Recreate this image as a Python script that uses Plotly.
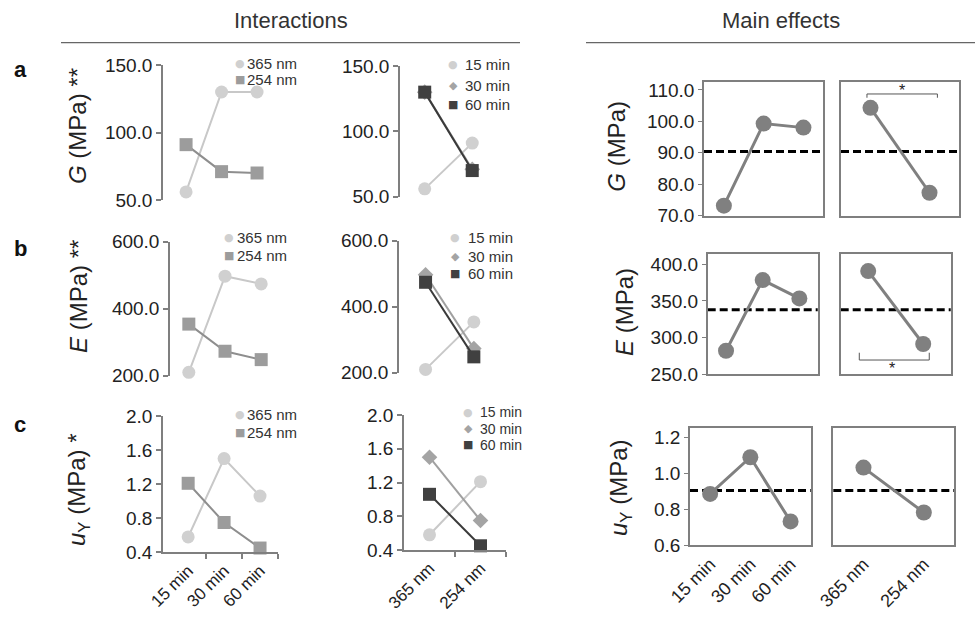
import plotly.graph_objects as go

W, H = 975, 617

# ---------------- data ----------------
times = ["15 min", "30 min", "60 min"]
wavelengths = ["365 nm", "254 nm"]

# interaction values (per wavelength, across exposure times)
G_365 = [56, 130, 130]
G_254 = [91, 71, 70]
E_365 = [210, 497, 474]
E_254 = [354, 273, 248]
uY_365 = [0.58, 1.50, 1.06]
uY_254 = [1.21, 0.75, 0.45]

# main effects
G_by_time = [73.2, 99.3, 98.0]
G_by_wl = [104.3, 77.3]
G_grand = 90.4
E_by_time = [281.8, 378.4, 353.4]
E_by_wl = [390.7, 291.0]
E_grand = 338.0
uY_by_time = [0.886, 1.091, 0.732]
uY_by_wl = [1.033, 0.782]
uY_grand = 0.905

G_ticks = [50, 100, 150]
E_ticks = [200, 400, 600]
uY_ticks = [0.4, 0.8, 1.2, 1.6, 2.0]
G_main_ticks = [70, 80, 90, 100, 110]
E_main_ticks = [250, 300, 350, 400]
uY_main_ticks = [0.6, 0.8, 1.0, 1.2]

# ---------------- styles ----------------
FONT = "Liberation Sans, Arial, Helvetica, sans-serif"
TXT = "#222222"
AX = "#7f7f7f"
C_LIGHT, L_LIGHT = "#d0d0d0", "#c8c8c8"
C_MID, L_MID = "#9c9c9c", "#8e8e8e"
C_DIAM, L_DIAM = "#a4a4a4", "#a0a0a0"
C_DARK, L_DARK = "#404040", "#3a3a3a"
C_MAIN = "#808080"

wl_styles = [dict(symbol="circle", size=13, color=C_LIGHT, line=L_LIGHT, glyph="\u25cf"),
             dict(symbol="square", size=13, color=C_MID, line=L_MID, glyph="\u25a0")]
time_styles = [dict(symbol="circle", size=13, color=C_LIGHT, line=L_LIGHT, glyph="\u25cf"),
               dict(symbol="diamond", size=12, color=C_DIAM, line=L_DIAM, glyph="\u25c6"),
               dict(symbol="square", size=13, color=C_DARK, line=L_DARK, glyph="\u25a0")]


def px(x):
    return x / W


def py(y):
    return 1 - y / H


rows = [
    dict(letter="a", letter_y=70, v365=G_365, v254=G_254, ticks=G_ticks, yr=[50, 150],
         c1=(163, 274.8, 65, 200, [-0.65, 2.5]), c2=(400, 496, 66, 196.7, [-0.52, 1.5]),
         c3=(704, 823.3, 81.7, 215.7), c4=(841, 959, 81.7, 215.7), myr=[70, 112.6],
         mtime=G_by_time, mwl=G_by_wl, grand=G_grand, mticks=G_main_ticks,
         ltitle="<i>G</i> (MPa) **", rtitle="<i>G</i> (MPa)", lt_y=126, rt_xy=(617, 146.7),
         leg1=(240, 245, [63, 79], 15), leg2=(453, 463, [65, 85, 104], 15)),
    dict(letter="b", letter_y=248, v365=E_365, v254=E_254, ticks=E_ticks, yr=[200, 600],
         c1=(170, 279.3, 241.7, 375.7, [-0.52, 2.5]), c2=(399, 498, 240.7, 372.7, [-0.55, 1.5]),
         c3=(707.7, 817.7, 254.3, 374), c4=(840.7, 950.7, 254.3, 374), myr=[250, 413.7],
         mtime=E_by_time, mwl=E_by_wl, grand=E_grand, mticks=E_main_ticks,
         ltitle="<i>E</i> (MPa) **", rtitle="<i>E</i> (MPa)", lt_y=297, rt_xy=(625, 312),
         leg1=(229, 235, [238, 255], 15), leg2=(455, 466, [238, 256, 273], 15)),
    dict(letter="c", letter_y=424, v365=uY_365, v254=uY_254, ticks=uY_ticks, yr=[0.4, 2.0],
         c1=(163, 278, 416, 552.3, [-0.7, 2.5]), c2=(404, 506, 415, 550, [-0.5, 1.5]),
         c3=(690, 810.7, 428.3, 545), c4=(833.3, 954, 428.3, 545), myr=[0.6, 1.253],
         mtime=uY_by_time, mwl=uY_by_wl, grand=uY_grand, mticks=uY_main_ticks,
         ltitle="<i>u</i><sub>Y</sub> (MPa) *", rtitle="<i>u</i><sub>Y</sub> (MPa)", lt_y=490,
         rt_xy=(620, 488),
         leg1=(240, 245, [414, 433], 15), leg2=(468, 478, [412, 428.5, 445], 14)),
]

fig = go.Figure()
layout = {}
annotations = []
shapes = []
n = 0

for ri, r in enumerate(rows):
    bottom = ri == len(rows) - 1

    # ---------- interaction panel 1: x = time, series = wavelength ----------
    n += 1
    x0, x1, yt, yb, xr = r["c1"]
    t_idx = list(range(len(times)))
    for wi, vals in enumerate([r["v365"], r["v254"]]):
        s = wl_styles[wi]
        fig.add_trace(go.Scatter(x=t_idx, y=vals, mode="lines+markers", name=wavelengths[wi],
                                 xaxis=f"x{n}", yaxis=f"y{n}", cliponaxis=False,
                                 line=dict(color=s["line"], width=2),
                                 marker=dict(symbol=s["symbol"], size=s["size"], color=s["color"]),
                                 showlegend=False, hoverinfo="skip"))
    xa = dict(domain=[px(x0), px(x1)], range=xr, anchor=f"y{n}", showgrid=False, zeroline=False,
              automargin=False,
              tickmode="array", tickvals=t_idx, ticktext=times, ticks="",
              showticklabels=bottom, showline=bottom, linecolor=AX, linewidth=1.5,
              tickangle=-45, tickfont=dict(size=17, color=TXT))
    if bottom:
        xa["minor"] = dict(tickmode="array", tickvals=[i + 0.5 for i in t_idx], ticks="outside",
                           ticklen=5, tickcolor=AX, tickwidth=1.5, showgrid=False)
    layout[f"xaxis{n}"] = xa
    layout[f"yaxis{n}"] = dict(domain=[py(yb), py(yt)], range=r["yr"], anchor=f"x{n}",
                               automargin=False,
                               tickmode="array", tickvals=r["ticks"], tickformat=".1f",
                               ticks="outside", ticklen=5, tickcolor=AX, tickwidth=1.5,
                               showline=True, linecolor=AX, linewidth=1.5, showgrid=False,
                               zeroline=False, tickfont=dict(size=19, color=TXT))

    # ---------- interaction panel 2: x = wavelength, series = time ----------
    n += 1
    x0, x1, yt, yb, xr = r["c2"]
    w_idx = list(range(len(wavelengths)))
    for ti in range(len(times)):
        s = time_styles[ti]
        vals = [r["v365"][ti], r["v254"][ti]]
        fig.add_trace(go.Scatter(x=w_idx, y=vals, mode="lines+markers", name=times[ti],
                                 xaxis=f"x{n}", yaxis=f"y{n}", cliponaxis=False,
                                 line=dict(color=s["line"], width=2),
                                 marker=dict(symbol=s["symbol"], size=s["size"], color=s["color"]),
                                 showlegend=False, hoverinfo="skip"))
    xa = dict(domain=[px(x0), px(x1)], range=xr, anchor=f"y{n}", showgrid=False, zeroline=False,
              automargin=False,
              tickmode="array", tickvals=w_idx, ticktext=wavelengths, ticks="",
              showticklabels=bottom, showline=bottom, linecolor=AX, linewidth=1.5,
              tickangle=-45, tickfont=dict(size=17, color=TXT))
    if bottom:
        xa["minor"] = dict(tickmode="array", tickvals=[i + 0.5 for i in w_idx], ticks="outside",
                           ticklen=5, tickcolor=AX, tickwidth=1.5, showgrid=False)
    layout[f"xaxis{n}"] = xa
    layout[f"yaxis{n}"] = dict(domain=[py(yb), py(yt)], range=r["yr"], anchor=f"x{n}",
                               automargin=False,
                               tickmode="array", tickvals=r["ticks"], tickformat=".1f",
                               ticks="outside", ticklen=5, tickcolor=AX, tickwidth=1.5,
                               showline=True, linecolor=AX, linewidth=1.5, showgrid=False,
                               zeroline=False, tickfont=dict(size=19, color=TXT))

    # ---------- main effects: time / wavelength ----------
    for ci, (cats, vals, geo) in enumerate([(times, r["mtime"], r["c3"]), (wavelengths, r["mwl"], r["c4"])]):
        n += 1
        x0, x1, yt, yb = geo
        fig.add_trace(go.Scatter(x=cats, y=vals, mode="lines+markers", xaxis=f"x{n}", yaxis=f"y{n}",
                                 cliponaxis=False, line=dict(color=C_MAIN, width=3),
                                 marker=dict(symbol="circle", size=16, color=C_MAIN),
                                 showlegend=False, hoverinfo="skip"))
        layout[f"xaxis{n}"] = dict(domain=[px(x0), px(x1)], type="category", range=[-0.5, len(cats) - 0.5],
                                   anchor=f"y{n}", showgrid=False, zeroline=False, ticks="",
                                   automargin=False,
                                   showline=True, mirror=True, linecolor=AX, linewidth=1.5,
                                   showticklabels=bottom, tickangle=-45,
                                   tickfont=dict(size=18, color=TXT))
        layout[f"yaxis{n}"] = dict(domain=[py(yb), py(yt)], range=r["myr"], anchor=f"x{n}",
                                   automargin=False,
                                   tickmode="array", tickvals=r["mticks"], tickformat=".1f",
                                   ticks="outside" if ci == 0 else "", ticklen=4, tickcolor=AX,
                                   showticklabels=(ci == 0), showline=True, mirror=True,
                                   linecolor=AX, linewidth=1.5, showgrid=False, zeroline=False,
                                   tickfont=dict(size=19, color=TXT))
        shapes.append(dict(type="line", xref=f"x{n} domain", yref=f"y{n}", x0=0, x1=1,
                           y0=r["grand"], y1=r["grand"], layer="below",
                           line=dict(color="black", width=3, dash="8px,4px")))
        if ci == 1 and ri == 0:
            shapes.append(dict(type="path", xref=f"x{n} domain", yref=f"y{n}",
                               path="M 0.22,107.5 L 0.22,108.7 L 0.817,108.7 L 0.817,107.5",
                               line=dict(color="#555555", width=1)))
            annotations.append(dict(xref=f"x{n} domain", yref=f"y{n}", x=0.52, y=108.7, text="*",
                                    showarrow=False, yanchor="bottom", yshift=-7,
                                    font=dict(size=16, color=TXT)))
        if ci == 1 and ri == 1:
            shapes.append(dict(type="path", xref=f"x{n} domain", yref=f"y{n}",
                               path="M 0.169,279.1 L 0.169,269.1 L 0.805,269.1 L 0.805,279.1",
                               line=dict(color="#555555", width=1)))
            annotations.append(dict(xref=f"x{n} domain", yref=f"y{n}", x=0.47, y=269.1, text="*",
                                    showarrow=False, yanchor="top", yshift=2,
                                    font=dict(size=16, color=TXT)))

    # ---------- panel letter & y titles ----------
    annotations.append(dict(xref="paper", yref="paper", x=px(20), y=py(r["letter_y"]), text=f"<b>{r['letter']}</b>",
                            showarrow=False, xanchor="center", yanchor="middle",
                            font=dict(size=22, color="#111")))
    annotations.append(dict(xref="paper", yref="paper", x=px(78), y=py(r["lt_y"]), text=r["ltitle"],
                            textangle=-90, showarrow=False, xanchor="center", yanchor="middle",
                            font=dict(size=24, color=TXT)))
    annotations.append(dict(xref="paper", yref="paper", x=px(r["rt_xy"][0]), y=py(r["rt_xy"][1]),
                            text=r["rtitle"], textangle=-90, showarrow=False, xanchor="center",
                            yanchor="middle", font=dict(size=24, color=TXT)))

    # ---------- legends ----------
    for (mx, tx, ys, fs), labels, styles in [(r["leg1"], wavelengths, wl_styles), (r["leg2"], times, time_styles)]:
        for lab, s, yy in zip(labels, styles, ys):
            annotations.append(dict(xref="paper", yref="paper", x=px(mx), y=py(yy), text=s["glyph"],
                                    showarrow=False, xanchor="center", yanchor="middle",
                                    font=dict(size=11, color=s["color"], family="DejaVu Sans")))
            annotations.append(dict(xref="paper", yref="paper", x=px(tx), y=py(yy), text=lab,
                                    showarrow=False, xanchor="left", yanchor="middle",
                                    font=dict(size=fs, color="#333")))

# headers
annotations.append(dict(xref="paper", yref="paper", x=px(290.5), y=py(20), text="Interactions",
                        showarrow=False, xanchor="center", yanchor="middle", font=dict(size=22, color="#333")))
annotations.append(dict(xref="paper", yref="paper", x=px(781), y=py(20), text="Main effects",
                        showarrow=False, xanchor="center", yanchor="middle", font=dict(size=22, color="#333")))
shapes.append(dict(type="line", xref="paper", yref="paper", x0=px(61), x1=px(520), y0=py(42.7), y1=py(42.7),
                   line=dict(color="#666", width=1.3)))
shapes.append(dict(type="line", xref="paper", yref="paper", x0=px(586), x1=px(975), y0=py(42.7), y1=py(42.7),
                   line=dict(color="#666", width=1.3)))

fig.update_layout(width=W, height=H, margin=dict(l=0, r=0, t=0, b=0, autoexpand=False),
                  plot_bgcolor="white", paper_bgcolor="white", showlegend=False,
                  font=dict(family=FONT, color=TXT, size=18),
                  annotations=annotations, shapes=shapes, **layout)

fig.write_html("out.html", config={"displayModeBar": False},
               post_script="document.body.style.margin='0';document.body.style.overflow='hidden';")
